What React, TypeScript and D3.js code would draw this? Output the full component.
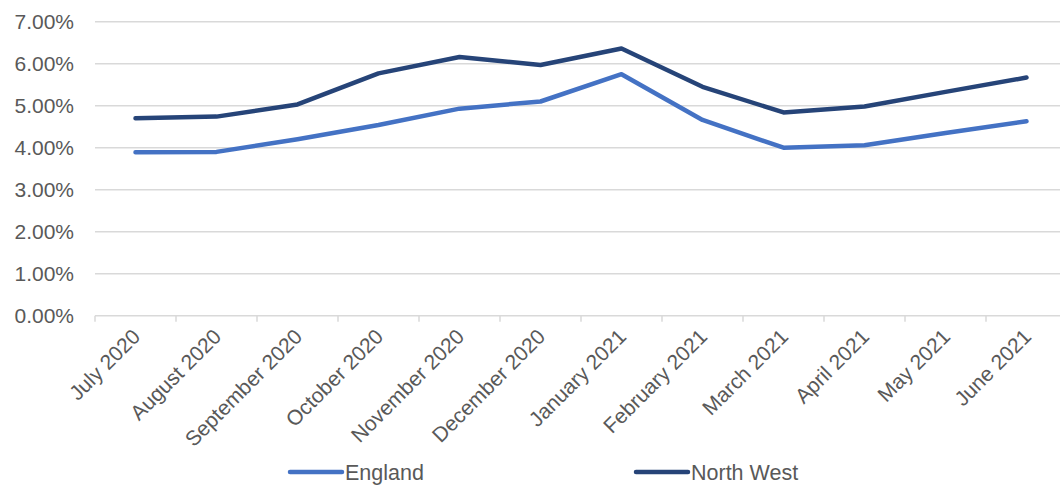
import React from "react";
import * as d3 from "d3";

const months = [
  "July 2020", "August 2020", "September 2020", "October 2020", "November 2020",
  "December 2020", "January 2021", "February 2021", "March 2021", "April 2021",
  "May 2021", "June 2021",
];
const england = [3.89, 3.9, 4.2, 4.54, 4.93, 5.1, 5.75, 4.66, 4.0, 4.06, 4.35, 4.63];
const northWest = [4.7, 4.74, 5.03, 5.77, 6.16, 5.97, 6.36, 5.45, 4.84, 4.98, 5.33, 5.67];
const yTicks = [0, 1, 2, 3, 4, 5, 6, 7];

const series = [
  { name: "England", values: england, color: "#4472C4" },
  { name: "North West", values: northWest, color: "#264478" },
];

const W = 1060;
const H = 485;
const FONT = "'Liberation Sans', Arial, sans-serif";
const TEXT = "#595959";
const GRID = "#d9d9d9";

export default function App() {
  const x = d3.scaleBand<string>().domain(months).range([95, 1067]);
  const y = d3.scaleLinear().domain([0, 7]).range([315.7, 21.7]);
  const cx = (m: string) => (x(m) ?? 0) + x.bandwidth() / 2;

  const line = (vals: number[]) =>
    d3
      .line<number>()
      .x((_, i) => cx(months[i]))
      .y((v) => y(v))(vals) ?? "";

  const tickXs = [...months.map((m) => x(m) ?? 0), 1067];
  const legendX = [290, 636];

  return (
    <div style={{ position: "absolute", left: 0, top: 0 }}>
      <svg width={W} height={H} style={{ display: "block", background: "#fff" }} fontFamily={FONT}>
        {yTicks.map((t) => (
          <g key={t}>
            <line x1={95} x2={1067} y1={y(t)} y2={y(t)} stroke={GRID} strokeWidth={1.5} />
            <text x={74} y={y(t) + 7.5} textAnchor="end" fontSize={21} fill={TEXT}>
              {t.toFixed(2) + "%"}
            </text>
          </g>
        ))}
        {tickXs.map((tx, i) => (
          <line key={i} x1={tx} x2={tx} y1={y(0)} y2={y(0) + 6} stroke={GRID} strokeWidth={1.5} />
        ))}
        {months.map((m) => (
          <text
            key={m}
            transform={`translate(${cx(m) + 6},${338}) rotate(-45)`}
            textAnchor="end"
            fontSize={21}
            fill={TEXT}
          >
            {m}
          </text>
        ))}
        {series.map((s) => (
          <path
            key={s.name}
            d={line(s.values)}
            fill="none"
            stroke={s.color}
            strokeWidth={4.5}
            strokeLinejoin="round"
            strokeLinecap="round"
          />
        ))}
        {series.map((s, i) => (
          <g key={s.name}>
            <line
              x1={legendX[i]}
              x2={legendX[i] + 52}
              y1={472}
              y2={472}
              stroke={s.color}
              strokeWidth={4.5}
              strokeLinecap="round"
            />
            <text x={legendX[i] + 55} y={480} fontSize={21.5} fill={TEXT}>
              {s.name}
            </text>
          </g>
        ))}
      </svg>
    </div>
  );
}
